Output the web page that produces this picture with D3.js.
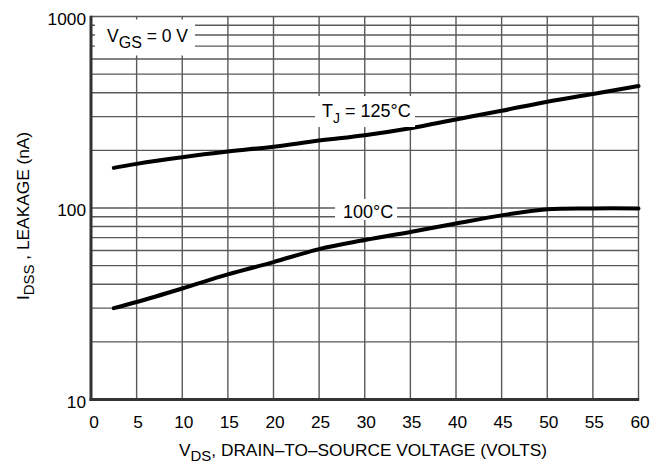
<!DOCTYPE html>
<html><head><meta charset="utf-8">
<script src="https://cdn.jsdelivr.net/npm/d3@7"></script>
<style>
body{margin:0;background:#fff;}
svg{display:block;font-family:"Liberation Sans",Arial,Helvetica,sans-serif;}
</style></head>
<body><svg id="c" width="668" height="464"></svg>
<script>
// Data
const vds = [2.5, 5, 10, 15, 20, 25, 30, 35, 40, 45, 50, 55, 60];
const leak125 = [162, 170, 184, 197, 209, 225, 240, 261, 290, 322, 359, 394, 434];
const leak100 = [30, 32.3, 38, 45, 52.2, 61, 68, 75, 83, 91.5, 98.5, 99.5, 99.5];
const xTicks = [0, 5, 10, 15, 20, 25, 30, 35, 40, 45, 50, 55, 60];
const yTickLabels = [10, 100, 1000];

const svg = d3.select("#c");
const x = d3.scaleLinear().domain([0, 60]).range([91, 638.5]);
const y = d3.scaleLog().domain([10, 1000]).range([399.5, 16.5]);

// grid
const gridY = [];
for (const d of [10, 100]) for (let k = 1; k <= 9; k++) gridY.push(d * k);
gridY.push(1000);
const g = svg.append("g");
g.selectAll("line.h").data(gridY).join("line")
  .attr("x1", x(0)).attr("x2", x(60))
  .attr("y1", d => y(d)).attr("y2", d => y(d))
  .attr("stroke", "#5a5a5a").attr("stroke-width", 1.4);
g.selectAll("line.v").data(xTicks).join("line")
  .attr("x1", d => x(d)).attr("x2", d => x(d))
  .attr("y1", y(10)).attr("y2", y(1000))
  .attr("stroke", "#5a5a5a").attr("stroke-width", 1.4);

// axes (thick left & bottom)
svg.append("line").attr("x1", x(0)).attr("x2", x(0)).attr("y1", y(1000) - 0.7).attr("y2", y(10) + 1.5)
  .attr("stroke", "#333").attr("stroke-width", 3);
svg.append("line").attr("x1", x(0) - 1.5).attr("x2", x(60) + 0.7).attr("y1", y(10)).attr("y2", y(10))
  .attr("stroke", "#333").attr("stroke-width", 3);

// curves
const line = d3.line().x(d => x(d[0])).y(d => y(d[1])).curve(d3.curveCatmullRom.alpha(0.5));
[leak125, leak100].forEach(s => {
  svg.append("path").datum(vds.map((v, i) => [v, s[i]]))
    .attr("d", line).attr("fill", "none").attr("stroke", "#000")
    .attr("stroke-width", 4).attr("stroke-linecap", "round");
});

// label boxes
function label(bx, by, bw, bh) {
  svg.append("rect").attr("x", bx).attr("y", by).attr("width", bw).attr("height", bh).attr("fill", "#fff");
}
label(95, 19.5, 100, 36);
label(315, 96, 100, 31);
label(335, 199, 62, 21);

let t = svg.append("text").attr("x", 107).attr("y", 42).attr("font-size", 17.5);
t.append("tspan").text("V");
t.append("tspan").attr("dy", 6).attr("font-size", 16).text("GS");
t.append("tspan").attr("dy", -6).text(" = 0 V");

t = svg.append("text").attr("x", 322).attr("y", 117).attr("font-size", 18);
t.append("tspan").text("T");
t.append("tspan").attr("dy", 6).attr("font-size", 14).text("J");
t.append("tspan").attr("dy", -6).text(" = 125°C");

svg.append("text").attr("x", 343).attr("y", 218).attr("font-size", 18).text("100°C");

// tick labels
svg.selectAll("text.yt").data(yTickLabels).join("text")
  .attr("x", 86).attr("y", d => y(d) + 8).attr("text-anchor", "end")
  .attr("font-size", 17.3).text(d => d);
svg.selectAll("text.xt").data(xTicks).join("text")
  .attr("x", d => x(d) + (d === 0 ? 3 : 1.5)).attr("y", 428).attr("text-anchor", "middle")
  .attr("font-size", 17.3).text(d => d);

// axis titles
t = svg.append("text").attr("x", 363).attr("y", 456).attr("text-anchor", "middle").attr("font-size", 17.3);
t.append("tspan").text("V");
t.append("tspan").attr("dy", 5).attr("font-size", 15).text("DS");
t.append("tspan").attr("dy", -5).text(", DRAIN–TO–SOURCE VOLTAGE (VOLTS)");

t = svg.append("text").attr("transform", "translate(29,216) rotate(-90)").attr("text-anchor", "middle").attr("font-size", 17.3);
t.append("tspan").text("I");
t.append("tspan").attr("dy", 5).attr("font-size", 15).text("DSS");
t.append("tspan").attr("dy", -5).text(" , LEAKAGE (nA)");
</script></body></html>
